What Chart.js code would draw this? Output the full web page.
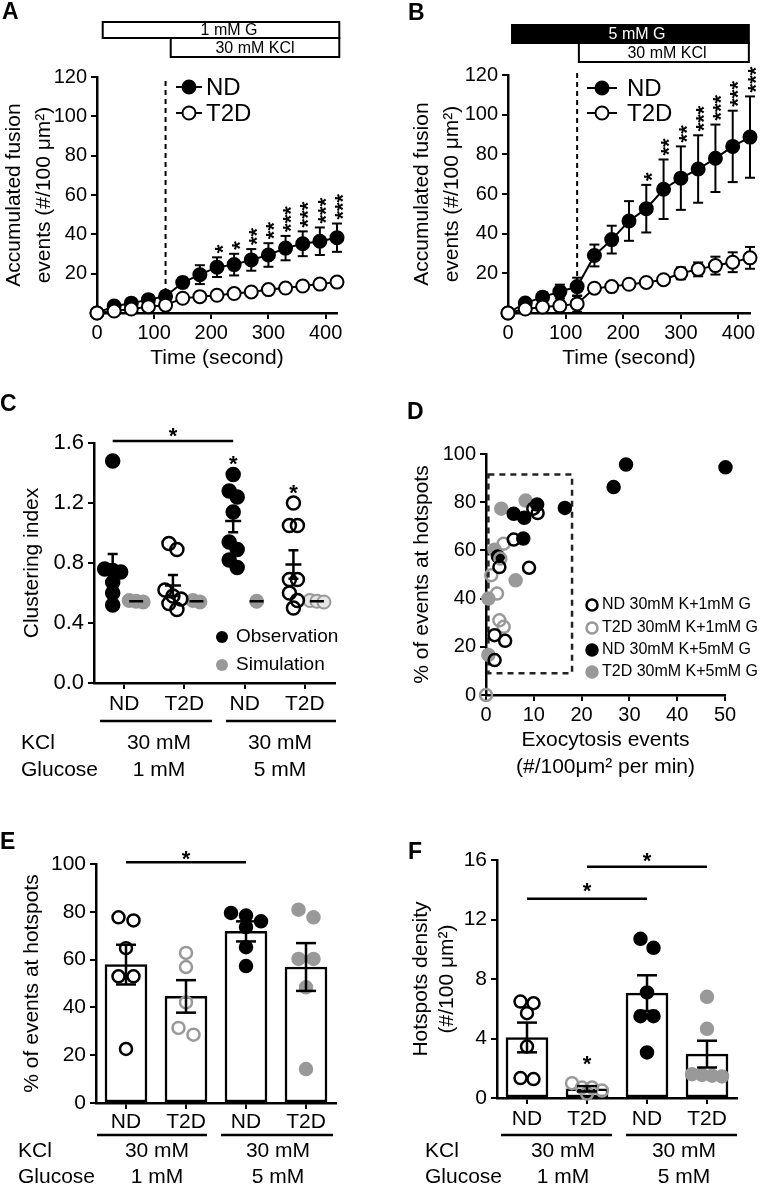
<!DOCTYPE html>
<html>
<head>
<meta charset="utf-8">
<title>Exocytosis hotspots</title>
<script src="https://cdn.jsdelivr.net/npm/chart.js@4.4.1/dist/chart.umd.min.js"></script>
<style>
  body { margin: 0; background: #fff; }
  #page { position: relative; width: 760px; height: 1185px; }
  #page canvas { position: absolute; left: 0; top: 0; }
</style>
</head>
<body>
<div id="page">
  <canvas id="chartA" width="760" height="1185"></canvas>
  <canvas id="chartB" width="760" height="1185"></canvas>
  <canvas id="chartC" width="760" height="1185"></canvas>
  <canvas id="chartD" width="760" height="1185"></canvas>
  <canvas id="chartE" width="760" height="1185"></canvas>
  <canvas id="chartF" width="760" height="1185"></canvas>
</div>
<script>
const FONT = "'Liberation Sans', Arial, Helvetica, sans-serif";
const PAGE_W = 760, PAGE_H = 1185;

// ---- A / B: accumulated fusion events ----
const times = [0, 30, 60, 90, 120, 150, 180, 210, 240, 270, 300, 330, 360, 390, 420];
const aND = [0, 3.5, 5, 6.8, 8.5, 15.5, 19.5, 23.3, 24.6, 27, 29.5, 33, 35.2, 36.5, 38.3];
const aNDErr = [0, 1.5, 1.5, 2, 2.5, 2.5, 4.8, 5, 5.5, 5.5, 6, 6.2, 6.3, 7, 7.2];
const aT2D = [0, 1, 2, 3.2, 4, 7.5, 8.3, 9, 9.9, 10.7, 11.9, 12.7, 13.7, 14.7, 15.7];
const aT2DErr = [0, 0.5, 0.5, 0.8, 1, 1, 1, 1, 1, 1, 1, 1, 1.2, 1.2, 1.2];
const aStars = ['', '', '', '', '', '', '', '*', '*', '**', '**', '***', '***', '***', '***'];

const bND = [0, 5, 8, 10.8, 13.3, 29, 37, 46.4, 52.6, 62.4, 68, 72.6, 78, 84, 88.7];
const bNDErr = [0, 2, 2.5, 3.5, 4.5, 5.5, 7, 10, 12, 15, 16, 17, 17, 18, 20.5];
const bT2D = [0, 2, 3, 3.6, 4.6, 12.5, 13.3, 14.5, 15.4, 16.8, 20, 22, 23.9, 25.6, 27.8];
const bT2DErr = [0, 1, 1.5, 2, 4, 1, 1, 1.5, 1.5, 2, 3, 3.5, 4.5, 5, 5.5];
const bStars = ['', '', '', '', '', '', '', '', '*', '**', '**', '***', '***', '***', '***'];

// ---- shared group labels ----
const groups = ['ND', 'T2D', 'ND', 'T2D'];
const kclRow = ['30 mM', '30 mM'];
const glucoseRow = ['1 mM', '5 mM'];

// ---- C: clustering index ----
const cObs = [
  [1.48, 0.76, 0.75, 0.74, 0.67, 0.6, 0.52],
  [0.93, 0.89, 0.62, 0.58, 0.56, 0.53, 0.49],
  [1.39, 1.28, 1.24, 1.14, 0.94, 0.89, 0.82, 0.77],
  [1.2, 1.05, 1.05, 0.69, 0.69, 0.6, 0.55, 0.5]
];
const cObsMean = [0.76, 0.65, 1.08, 0.79];
const cObsSem = [0.1, 0.07, 0.075, 0.095];
const cSim = [[0.55, 0.545, 0.54], [0.55, 0.54], [0.545], [0.55, 0.545, 0.54]];
const cSimMean = [0.545, 0.545, 0.545, 0.545];

// ---- D: % events at hotspots vs exocytosis (x, y) ----
const dND1 = [[9.9, 77.3], [10.8, 75.5], [5.8, 64.5], [2.8, 53.1], [9, 52.8], [1.8, 24.8], [4, 22.5], [1.8, 14.5]];
const dT2D1 = [[0, 0], [1.1, 49.7], [2.3, 42.1], [3.7, 62.8], [3, 56.6], [2.8, 31], [3.7, 28.3]];
const dND5 = [[29.3, 95.6], [26.7, 86.3], [50.1, 94.5], [16.5, 77.6], [5.8, 75.2], [8, 73.5], [10.7, 79], [7.8, 64.9], [2.5, 57.5]];
const dT2D5 = [[3.2, 77.3], [8.3, 80.7], [6.2, 47.6], [0.5, 40], [1.8, 60.3], [0.5, 16.6]];
const dLegend = ['ND 30mM K+1mM G', 'T2D 30mM K+1mM G', 'ND 30mM K+5mM G', 'T2D 30mM K+5mM G'];

// ---- E: % of events at hotspots ----
const eValues = [[77.7, 76.4, 64.8, 53, 53, 22.6], [62.8, 56.9, 42.1, 31.4, 28.6], [79.5, 78.4, 76, 73.6, 65.2, 57.3], [80.9, 77.7, 60.3, 60.3, 48.4, 14.2]];
const eMean = [57.9, 44.6, 71.8, 56.9];
const eSem = [8.3, 6.8, 4.2, 10];

// ---- F: hotspot density ----
const fValues = [[6.48, 6.37, 5.7, 3.46, 1.34, 1.27], [1.0, 0.7, 0.7, 0.5, 0.3], [10.7, 10.1, 7.1, 5.5, 5.5, 3.06], [6.8, 4.65, 1.6, 1.55, 1.5, 1.45]];
const fMean = [4.07, 0.62, 7.05, 2.95];
const fSem = [1.0, 0.18, 1.2, 0.9];

// Chart defaults
Chart.defaults.font.family = FONT;
Chart.defaults.font.size = 21;
Chart.defaults.color = '#000';
Chart.defaults.animation = false;
Chart.defaults.responsive = false;
Chart.defaults.events = [];
Chart.defaults.plugins.legend.display = false;
Chart.defaults.plugins.tooltip.enabled = false;

// plot areas in page pixels
const box = {
  A: { left: 97, right: 337, top: 77, bottom: 313, titleLeft: 0, xh: 58 },
  B: { left: 508, right: 750, top: 75, bottom: 313, titleLeft: 408, xh: 58 },
  C: { left: 94, right: 335, top: 443, bottom: 683, titleLeft: 20, xh: 32 },
  D: { left: 486, right: 725, top: 454, bottom: 695, titleLeft: 410, xh: 86 },
  E: { left: 96, right: 336, top: 864, bottom: 1103, titleLeft: 20, xh: 32 },
  F: { left: 497, right: 737, top: 860, bottom: 1098, titleLeft: 409, xh: 32 }
};

const GRAY = '#999999';
const NONE = 'rgba(0,0,0,0)';
// marker style per group: ND 1mM, T2D 1mM, ND 5mM, T2D 5mM
const groupStyle = [
  { fill: NONE, stroke: '#000' },
  { fill: NONE, stroke: GRAY },
  { fill: '#000', stroke: '#000' },
  { fill: GRAY, stroke: GRAY }
];

function layoutFor(p) {
  return { padding: { left: p.titleLeft, top: p.top, right: PAGE_W - p.right, bottom: PAGE_H - p.bottom - p.xh } };
}

function axis(p, o) {
  const horizontal = o.pos === 'x';
  return {
    type: 'linear',
    position: horizontal ? 'bottom' : 'left',
    min: o.min,
    max: o.max,
    offset: false,
    border: { display: true, color: '#000', width: 2.5 },
    grid: { offset: false, drawOnChartArea: false, drawTicks: true, tickLength: 6, color: '#000', lineWidth: 2 },
    ticks: {
      color: '#000', font: { size: o.size || 21 }, padding: o.pad ?? 3,
      stepSize: o.step, includeBounds: false, maxRotation: 0, autoSkip: false,
      callback: o.fmt || (v => v)
    },
    title: o.title
      ? { display: true, text: o.title, color: '#000', padding: 0, font: { size: 21, lineHeight: o.lh || 1.2 } }
      : { display: false },
    afterBuildTicks: o.fixed ? (s => { s.ticks = o.fixed.map(v => ({ value: v })); }) : undefined,
    afterFit: s => {
      if (horizontal) s.height = p.xh;
      else s.width = p.left - p.titleLeft;
    }
  };
}

// spread near-equal values sideways (rows centred on the group)
function swarm(values, center, unitPx, yPx, step, maxSpread) {
  const sorted = [...values].sort((a, b) => b - a);
  const out = [];
  let row = [];
  const flush = () => {
    const st = row.length > 1 ? Math.min(step, maxSpread / (row.length - 1)) : 0;
    row.forEach((v, k) => out.push({ x: center + (k - (row.length - 1) / 2) * st / unitPx, y: v }));
    row = [];
  };
  sorted.forEach(v => {
    if (row.length && (row[0] - v) * yPx > 9.5) flush();
    row.push(v);
  });
  flush();
  return out;
}

// ---- drawing helpers ----
function text(ctx, s, x, y, o = {}) {
  ctx.save();
  ctx.font = (o.bold ? 'bold ' : '') + (o.size || 21) + 'px ' + FONT;
  ctx.fillStyle = o.color || '#000';
  ctx.textAlign = o.align || 'left';
  ctx.textBaseline = 'middle';
  ctx.fillText(s, x, y);
  ctx.restore();
}

function seg(ctx, x1, y1, x2, y2, lw = 2.5, dash) {
  ctx.save();
  ctx.strokeStyle = '#000';
  ctx.lineWidth = lw;
  if (dash) ctx.setLineDash(dash);
  ctx.beginPath();
  ctx.moveTo(x1, y1);
  ctx.lineTo(x2, y2);
  ctx.stroke();
  ctx.restore();
}

function errBar(ctx, x, yTop, yBot, cap, lw = 2) {
  seg(ctx, x, yTop, x, yBot, lw);
  seg(ctx, x - cap, yTop, x + cap, yTop, lw);
  seg(ctx, x - cap, yBot, x + cap, yBot, lw);
}

function dot(ctx, x, y, r, fill, stroke, lw = 2.5) {
  ctx.save();
  ctx.beginPath();
  ctx.arc(x, y, r, 0, Math.PI * 2);
  if (fill) { ctx.fillStyle = fill; ctx.fill(); }
  if (stroke) { ctx.strokeStyle = stroke; ctx.lineWidth = lw; ctx.stroke(); }
  ctx.restore();
}

// asterisks stacked upward (rotated text)
function starsUp(ctx, s, x, yBase, size = 22) {
  ctx.save();
  ctx.font = 'bold ' + size + 'px ' + FONT;
  ctx.fillStyle = '#000';
  ctx.textAlign = 'left';
  ctx.textBaseline = 'alphabetic';
  ctx.translate(x + 0.58 * size, yBase);
  ctx.rotate(-Math.PI / 2);
  ctx.fillText(s, 0, 0);
  ctx.restore();
}

function star(ctx, x, cy, size = 22) {
  ctx.save();
  ctx.font = 'bold ' + size + 'px ' + FONT;
  ctx.fillStyle = '#000';
  ctx.textAlign = 'center';
  ctx.textBaseline = 'alphabetic';
  ctx.fillText('*', x, cy + 0.58 * size);
  ctx.restore();
}

function condBox(ctx, x0, x1, y0, y1, label, dark, tx) {
  ctx.save();
  ctx.fillStyle = dark ? '#000' : '#fff';
  ctx.fillRect(x0, y0, x1 - x0, y1 - y0);
  ctx.strokeStyle = '#000';
  ctx.lineWidth = 2;
  ctx.strokeRect(x0, y0, x1 - x0, y1 - y0);
  ctx.restore();
  text(ctx, label, tx, (y0 + y1) / 2 + 1, { size: 16, align: 'center', color: dark ? '#fff' : '#000' });
}

function conditions(ctx, c) {
  c.spans.forEach(sp => seg(ctx, sp[0], c.lineY, sp[1], c.lineY, 2.5));
  text(ctx, 'KCl', c.labelX, c.kclY);
  text(ctx, 'Glucose', c.labelX, c.gluY);
  c.cols.forEach((x, i) => {
    text(ctx, kclRow[i], x, c.kclY, { align: 'center' });
    text(ctx, glucoseRow[i], x, c.gluY, { align: 'center' });
  });
}

// ---- A and B ----
function timeCourse(id, p, s) {
  const pts = arr => times.map((t, i) => ({ x: t, y: arr[i] }));
  const line = (arr, fill) => ({
    data: pts(arr), borderColor: '#000', borderWidth: 2, pointRadius: 6.5, pointBorderWidth: 2,
    pointBackgroundColor: fill, pointBorderColor: '#000', clip: false
  });
  return new Chart(document.getElementById(id), {
    type: 'line',
    data: { datasets: [line(s.t2d, '#fff'), line(s.nd, '#000')] },
    options: {
      layout: layoutFor(p),
      scales: {
        x: axis(p, { pos: 'x', min: 0, max: 420, step: 100, size: 20, pad: 2, title: 'Time (second)' }),
        y: axis(p, {
          pos: 'y', min: 0, max: 120, step: 20, size: 20, pad: 4, lh: 1.4,
          fmt: v => (v === 0 ? '' : v), title: ['Accumulated fusion', 'events (#/100 μm²)']
        })
      }
    },
    plugins: [{
      id: 'timeExtras',
      beforeDatasetsDraw(chart) {
        const { ctx } = chart;
        const xs = chart.scales.x, ys = chart.scales.y;
        const x120 = xs.getPixelForValue(120);
        seg(ctx, x120, ys.getPixelForValue(s.dashTop), x120, ys.getPixelForValue(0), 2, [5, 4]);
        [[s.nd, s.ndErr], [s.t2d, s.t2dErr]].forEach(([v, e]) => {
          times.forEach((t, i) => {
            if (!e[i]) return;
            errBar(ctx, xs.getPixelForValue(t), ys.getPixelForValue(v[i] + e[i]), ys.getPixelForValue(v[i] - e[i]), 5);
          });
        });
      },
      afterDraw(chart) {
        const { ctx } = chart;
        const xs = chart.scales.x, ys = chart.scales.y;
        times.forEach((t, i) => {
          if (s.stars[i]) starsUp(ctx, s.stars[i], xs.getPixelForValue(t), ys.getPixelForValue(s.nd[i] + s.ndErr[i]) - 4);
        });
        // legend
        const lg = s.legend;
        [['ND', '#000'], ['T2D', '#fff']].forEach(([name, fill], k) => {
          const y = lg.y[k];
          seg(ctx, lg.x0, y, lg.x1, y, 2);
          dot(ctx, (lg.x0 + lg.x1) / 2, y, 6.5, fill, '#000', 2);
          text(ctx, name, lg.tx, y + 1, { size: 24 });
        });
        // treatment bars
        const g = s.gBox, k = s.kBox;
        condBox(ctx, xs.getPixelForValue(g.from), xs.getPixelForValue(g.to), g.y0, g.y1, g.label, g.dark, g.tx);
        condBox(ctx, xs.getPixelForValue(k.from), xs.getPixelForValue(k.to), k.y0, k.y1, '30 mM KCl', false, k.tx);
        text(ctx, s.letter[0], s.letter[1], s.letter[2], { bold: true, size: 23 });
      }
    }]
  });
}

timeCourse('chartA', box.A, {
  nd: aND, ndErr: aNDErr, t2d: aT2D, t2dErr: aT2DErr, stars: aStars, dashTop: 118,
  legend: { x0: 176, x1: 202, tx: 206, y: [87, 113] },
  gBox: { from: 10, to: 424, y0: 22, y1: 38, label: '1 mM G', dark: false, tx: 229 },
  kBox: { from: 129, to: 424, y0: 38, y1: 57, tx: 255 },
  letter: ['A', 2, 13]
});

timeCourse('chartB', box.B, {
  nd: bND, ndErr: bNDErr, t2d: bT2D, t2dErr: bT2DErr, stars: bStars, dashTop: 121,
  legend: { x0: 587, x1: 617, tx: 627, y: [88, 113] },
  gBox: { from: 7, to: 418, y0: 25, y1: 43, label: '5 mM G', dark: true, tx: 637 },
  kBox: { from: 123, to: 418, y0: 43, y1: 62, tx: 667 },
  letter: ['B', 408, 14]
});

// ---- C ----
(function () {
  const p = box.C;
  const unit = (p.right - p.left) / 4;
  const ypx = (p.bottom - p.top) / 1.6;
  const obsShift = -0.19, simShift = 0.2;
  const obsSets = cObs.map((vals, i) => ({
    data: swarm(vals, i + obsShift, unit, ypx, 8, 20), pointRadius: 6.5, pointBorderWidth: 2.5,
    pointBackgroundColor: i % 2 ? NONE : '#000', pointBorderColor: '#000', clip: false
  }));
  const simSets = cSim.map((vals, i) => ({
    data: swarm(vals, i + simShift, unit, ypx, 7, 16), pointRadius: 6.5, pointBorderWidth: 2,
    pointBackgroundColor: i === 3 ? '#e6e6e6' : GRAY, pointBorderColor: GRAY, clip: false
  }));
  new Chart(document.getElementById('chartC'), {
    type: 'scatter',
    data: { datasets: [...obsSets, ...simSets] },
    options: {
      layout: layoutFor(p),
      scales: {
        x: axis(p, { pos: 'x', min: -0.5, max: 3.5, fixed: [0, 1, 2, 3], pad: 3, fmt: (v, i) => groups[i] }),
        y: axis(p, { pos: 'y', min: 0, max: 1.6, step: 0.4, size: 22, pad: 4, fmt: v => v.toFixed(1), title: 'Clustering index' })
      }
    },
    plugins: [{
      id: 'clusterExtras',
      afterDatasetsDraw(chart) {
        const { ctx } = chart;
        const xs = chart.scales.x, ys = chart.scales.y;
        cObsMean.forEach((m, i) => {
          const x = xs.getPixelForValue(i + obsShift);
          seg(ctx, x - 8, ys.getPixelForValue(m), x + 8, ys.getPixelForValue(m), 2.5);
          errBar(ctx, x, ys.getPixelForValue(m + cObsSem[i]), ys.getPixelForValue(m - cObsSem[i]), 5, 2.5);
          const xsim = xs.getPixelForValue(i + simShift);
          seg(ctx, xsim - 7, ys.getPixelForValue(cSimMean[i]), xsim + 7, ys.getPixelForValue(cSimMean[i]), 2.5);
        });
      },
      afterDraw(chart) {
        const { ctx } = chart;
        const xs = chart.scales.x, ys = chart.scales.y;
        const x0 = xs.getPixelForValue(obsShift), x2 = xs.getPixelForValue(2 + obsShift);
        seg(ctx, x0, ys.getPixelForValue(1.613), x2, ys.getPixelForValue(1.613), 2.5);
        star(ctx, (x0 + x2) / 2, ys.getPixelForValue(1.687));
        star(ctx, x2, ys.getPixelForValue(1.5));
        star(ctx, xs.getPixelForValue(3 + obsShift), ys.getPixelForValue(1.307));
        dot(ctx, 222, 637, 6, '#000', null);
        text(ctx, 'Observation', 236, 637, { size: 19 });
        dot(ctx, 222, 665, 6, GRAY, null);
        text(ctx, 'Simulation', 236, 665, { size: 19 });
        conditions(ctx, { spans: [[100, 212], [226, 336]], lineY: 721, labelX: 21, kclY: 743, gluY: 770, cols: [159, 280] });
        text(ctx, 'C', 0, 405, { bold: true, size: 23 });
      }
    }]
  });
})();

// ---- D ----
(function () {
  const p = box.D;
  const sets = [dND1, dT2D1, dND5, dT2D5].map((arr, i) => ({
    data: arr.map(([x, y]) => ({ x, y })), pointRadius: 6, pointBorderWidth: 2.5,
    pointBackgroundColor: groupStyle[i].fill, pointBorderColor: groupStyle[i].stroke, clip: false
  }));
  new Chart(document.getElementById('chartD'), {
    type: 'scatter',
    data: { datasets: sets },
    options: {
      layout: layoutFor(p),
      scales: {
        x: axis(p, { pos: 'x', min: 0, max: 50, step: 10, size: 20, pad: 2, lh: 1.3, title: ['Exocytosis events', '(#/100μm² per min)'] }),
        y: axis(p, { pos: 'y', min: 0, max: 100, step: 20, size: 20, pad: 4, title: '% of events at hotspots' })
      }
    },
    plugins: [{
      id: 'hotspotBox',
      beforeDatasetsDraw(chart) {
        const { ctx } = chart;
        const xs = chart.scales.x, ys = chart.scales.y;
        ctx.save();
        ctx.strokeStyle = '#222';
        ctx.lineWidth = 2.5;
        ctx.setLineDash([6, 5]);
        const x0 = xs.getPixelForValue(0.5), x1 = xs.getPixelForValue(18);
        const y0 = ys.getPixelForValue(91.5), y1 = ys.getPixelForValue(9);
        ctx.strokeRect(x0, y0, x1 - x0, y1 - y0);
        ctx.restore();
      },
      afterDraw(chart) {
        const { ctx } = chart;
        dLegend.forEach((label, i) => {
          const y = [605, 628, 650, 672][i];
          dot(ctx, 592, y, 5.5, groupStyle[i].fill === NONE ? '#fff' : groupStyle[i].fill, groupStyle[i].stroke, 2.5);
          text(ctx, label, 602, y, { size: 16 });
        });
        text(ctx, 'D', 407, 413, { bold: true, size: 23 });
      }
    }]
  });
})();

// ---- E and F ----
function barPanel(id, p, o) {
  const unit = (p.right - p.left) / 4;
  const ypx = (p.bottom - p.top) / o.max;
  const scatter = o.values.map((vals, i) => ({
    type: 'scatter', order: 1, data: swarm(vals, i, unit, ypx, o.step, o.spread),
    pointRadius: 6, pointBorderWidth: 2.5, pointBackgroundColor: groupStyle[i].fill,
    pointBorderColor: groupStyle[i].stroke, clip: false
  }));
  const bars = {
    type: 'bar', order: 2, data: o.mean.map((m, i) => ({ x: i, y: m })),
    backgroundColor: '#fff', borderColor: '#000', borderWidth: 2.5, borderSkipped: false,
    barThickness: 42, grouped: false, clip: false
  };
  return new Chart(document.getElementById(id), {
    type: 'bar',
    data: { datasets: [...scatter, bars] },
    options: {
      layout: layoutFor(p),
      scales: {
        x: axis(p, { pos: 'x', min: -0.5, max: 3.5, fixed: [0, 1, 2, 3], pad: o.xpad, fmt: (v, i) => groups[i] }),
        y: axis(p, { pos: 'y', min: 0, max: o.max, step: o.yStep, size: 21, pad: 4, title: o.title, lh: 1.2 })
      }
    },
    plugins: [{
      id: 'barExtras',
      afterDatasetsDraw(chart) {
        const { ctx } = chart;
        const xs = chart.scales.x, ys = chart.scales.y;
        o.mean.forEach((m, i) => {
          errBar(ctx, xs.getPixelForValue(i), ys.getPixelForValue(m + o.sem[i]), ys.getPixelForValue(m - o.sem[i]), 10, 2.5);
        });
      },
      afterDraw(chart) {
        const { ctx } = chart;
        const xs = chart.scales.x, ys = chart.scales.y;
        o.brackets.forEach(b => {
          const x0 = xs.getPixelForValue(b.from), x1 = xs.getPixelForValue(b.to);
          seg(ctx, x0, ys.getPixelForValue(b.y), x1, ys.getPixelForValue(b.y), 2.5);
          star(ctx, (x0 + x1) / 2, ys.getPixelForValue(b.starY));
        });
        o.stars.forEach(s => star(ctx, xs.getPixelForValue(s.x), ys.getPixelForValue(s.y)));
        conditions(ctx, o.cond);
        text(ctx, o.letter[0], o.letter[1], o.letter[2], { bold: true, size: 23 });
      }
    }]
  });
}

barPanel('chartE', box.E, {
  values: eValues, mean: eMean, sem: eSem, max: 100, yStep: 20, step: 15, spread: 30, xpad: 1,
  title: '% of events at hotspots',
  brackets: [{ from: 0, to: 2, y: 100.7, starY: 104.4 }],
  stars: [],
  cond: { spans: [[97, 207], [221, 333]], lineY: 1135, labelX: 18, kclY: 1151, gluY: 1177, cols: [157, 278] },
  letter: ['E', 0, 843]
});

barPanel('chartF', box.F, {
  values: fValues, mean: fMean, sem: fSem, max: 16, yStep: 4, step: 13, spread: 30, xpad: 3,
  title: ['Hotspots density', '(#/100 μm²)'],
  brackets: [{ from: 0, to: 2, y: 13.4, starY: 14.3 }, { from: 1, to: 3, y: 15.55, starY: 16.35 }],
  stars: [{ x: 1, y: 2.7 }],
  cond: { spans: [[501, 612], [626, 737]], lineY: 1135, labelX: 425, kclY: 1151, gluY: 1177, cols: [563, 684] },
  letter: ['F', 408, 853]
});
</script>
</body>
</html>
